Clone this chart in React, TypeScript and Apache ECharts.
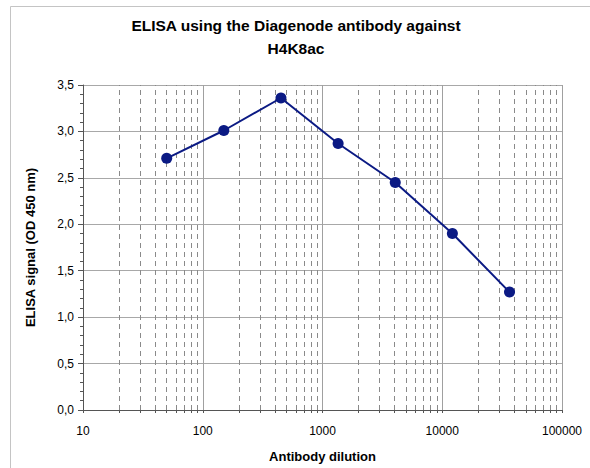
import React, { useEffect, useRef } from "react";
import * as echarts from "echarts";

const dilutions = [50, 150, 450, 1350, 4050, 12150, 36450];
const signals = [2.71, 3.01, 3.36, 2.87, 2.45, 1.9, 1.27];
const decades = [10, 100, 1000, 10000, 100000];
const minorMultipliers = [2, 3, 4, 5, 6, 7, 8, 9];

const titleText = "ELISA using the Diagenode antibody against\nH4K8ac";
const xName = "Antibody dilution";
const yName = "ELISA signal (OD 450 nm)";

export default function App() {
  const ref = useRef<HTMLDivElement>(null);
  useEffect(() => {
    if (!ref.current) return;
    const chart = echarts.init(ref.current, null, { renderer: "svg" });
    const minorValues: number[] = [];
    decades.slice(0, -1).forEach((d) => {
      minorMultipliers.forEach((m) => minorValues.push(d * m));
    });
    const minorLines = minorValues.map((v) => ({ xAxis: v }));
    const decadeLines = decades.slice(1).map((v) => ({ xAxis: v }));
    const tickValues = [...decades, ...minorValues].sort((a, b) => a - b);
    const font = "'Liberation Sans', Arial, sans-serif";
    chart.setOption({
      animation: false,
      backgroundColor: "#ffffff",
      textStyle: { fontFamily: font },
      title: {
        text: titleText,
        left: 291,
        top: 9,
        textAlign: "center",
        textStyle: {
          fontSize: 15.5,
          fontWeight: "bold",
          color: "#000",
          lineHeight: 23,
          fontFamily: font,
        },
      },
      graphic: [
        {
          type: "rect",
          shape: { x: 10.5, y: 6.5, width: 600, height: 470 },
          style: { fill: "none", stroke: "#c4c4c4", lineWidth: 1 },
          silent: true,
        },
      ],
      grid: { left: 83, right: 28, top: 85, bottom: 57, containLabel: false },
      xAxis: {
        type: "log",
        logBase: 10,
        min: 10,
        max: 100000,
        name: xName,
        nameLocation: "middle",
        nameGap: 40,
        nameTextStyle: { fontSize: 13, fontWeight: "bold", color: "#000", fontFamily: font },
        axisLine: { show: true, lineStyle: { color: "#555", width: 1 } },
        axisTick: {
          show: true,
          customValues: tickValues,
          length: 3,
          lineStyle: { color: "#555" },
        },
        axisLabel: {
          color: "#000",
          fontSize: 12,
          margin: 15,
          formatter: (v: number) => String(Math.round(v)),
        },
        splitLine: { show: false },
        minorTick: { show: false },
        minorSplitLine: { show: false },
      },
      yAxis: {
        type: "value",
        min: 0,
        max: 3.5,
        interval: 0.5,
        name: yName,
        nameLocation: "middle",
        nameGap: 46,
        nameTextStyle: { fontSize: 13, fontWeight: "bold", color: "#000", fontFamily: font },
        axisLine: { show: true, lineStyle: { color: "#555", width: 1 } },
        axisTick: { show: true, inside: false, length: 5, lineStyle: { color: "#555" } },
        minorTick: { show: true, splitNumber: 5, length: 3, lineStyle: { color: "#555" } },
        axisLabel: {
          color: "#000",
          fontSize: 12,
          margin: 9,
          formatter: (v: number) => v.toFixed(1).replace(".", ","),
        },
        splitLine: { show: true, lineStyle: { color: "#a8a8a8", width: 1 } },
      },
      series: [
        {
          type: "line",
          data: dilutions.map((d, i) => [d, signals[i]]),
          symbol: "circle",
          symbolSize: 11,
          lineStyle: { color: "#0b1a84", width: 2 },
          itemStyle: { color: "#0b1a84" },
          z: 5,
          markLine: {
            silent: true,
            symbol: "none",
            label: { show: false },
            lineStyle: { color: "#8a8a8a", type: [5, 4], width: 1 },
            data: minorLines,
            z: 1,
          },
        },
        {
          type: "line",
          data: [],
          markLine: {
            silent: true,
            symbol: "none",
            label: { show: false },
            lineStyle: { color: "#a0a0a0", type: "solid", width: 1 },
            data: decadeLines,
          },
        },
      ],
    });
    return () => chart.dispose();
  }, []);
  return (
    <div
      ref={ref}
      style={{ position: "absolute", left: 0, top: 0, width: 590, height: 468 }}
    />
  );
}
